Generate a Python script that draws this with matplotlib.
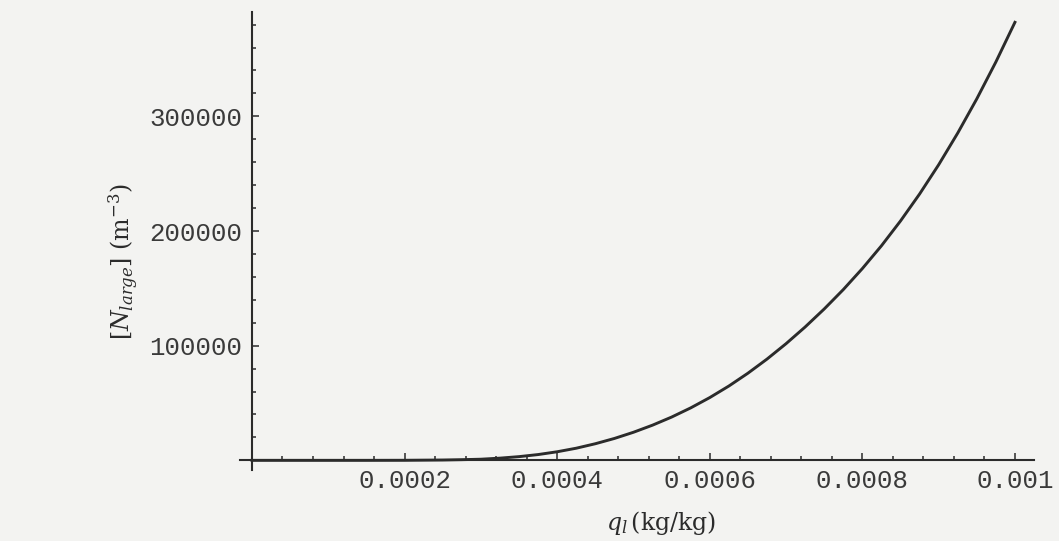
import matplotlib
matplotlib.use("Agg")
import matplotlib.pyplot as plt
from matplotlib.ticker import MultipleLocator, FixedLocator

# values
q_l = [0.0, 0.00005, 0.0001, 0.00015, 0.0002, 0.00025, 0.000275, 0.0003,
       0.000325, 0.00035, 0.000375, 0.0004, 0.000425, 0.00045, 0.000475,
       0.0005, 0.000525, 0.00055, 0.000575, 0.0006, 0.000625, 0.00065,
       0.000675, 0.0007, 0.000725, 0.00075, 0.000775, 0.0008, 0.000825,
       0.00085, 0.000875, 0.0009, 0.000925, 0.00095, 0.000975, 0.001]
n_large = [0, 0, 0, 0, 50, 300, 600, 1000,
           1940, 3250, 5060, 7500, 10600, 14500, 19100,
           24500, 30700, 37750, 45750, 54750, 64800, 76000,
           88300, 101750, 116300, 132000, 148900, 167250, 187100,
           208750, 232250, 257750, 285400, 315250, 347400, 382000]

x_ticks = [0.0002, 0.0004, 0.0006, 0.0008, 0.001]
x_tick_labels = ["0.0002", "0.0004", "0.0006", "0.0008", "0.001"]
y_ticks = [100000, 200000, 300000]
y_tick_labels = ["100000", "200000", "300000"]

ink = "#2b2b2b"
paper = "#f3f3f1"

plt.rcParams["mathtext.fontset"] = "dejavuserif"

fig = plt.figure(figsize=(10.59, 5.41), dpi=100, facecolor=paper)
ax = fig.add_axes([240 / 1059, 71 / 541, 794 / 1059, 458 / 541])
ax.set_facecolor(paper)

ax.plot(q_l, n_large, color=ink, lw=2.1, solid_joinstyle="round", zorder=3)

ax.set_xlim(-0.0000157, 0.001025)
ax.set_ylim(-8400, 391000)

# mathematica style axes crossing at origin
for s in ["top", "right"]:
    ax.spines[s].set_visible(False)
ax.spines["left"].set_position(("data", 0))
ax.spines["bottom"].set_position(("data", 0))
for s in ["left", "bottom"]:
    ax.spines[s].set_color(ink)
    ax.spines[s].set_linewidth(1.5)

ax.xaxis.set_major_locator(FixedLocator(x_ticks))
ax.set_xticklabels(x_tick_labels)
ax.xaxis.set_minor_locator(MultipleLocator(0.00004))
ax.yaxis.set_major_locator(FixedLocator(y_ticks))
ax.set_yticklabels(y_tick_labels)
ax.yaxis.set_minor_locator(MultipleLocator(20000))

ax.tick_params(which="both", direction="in", color=ink, width=1.1)
ax.tick_params(which="major", length=5)
ax.tick_params(which="minor", length=3)
ax.tick_params(axis="x", pad=6)
ax.tick_params(axis="y", pad=7)
for lab in ax.get_xticklabels() + ax.get_yticklabels():
    lab.set_fontfamily("Liberation Mono")
    lab.set_fontsize(18.5)
    lab.set_color("#3a3a3a")

fig.text(661 / 1059, 1 - 523 / 541, r"$q_l\,$(kg/kg)", ha="center", va="center",
         fontsize=17, family="DejaVu Serif", color=ink)
fig.text(124 / 1059, 1 - 262 / 541, r"[$N_{large}$] (m$^{-3}$)", ha="center",
         va="center", rotation=90, fontsize=17, family="DejaVu Serif", color=ink)

fig.savefig("out.png", dpi=100, facecolor=paper)
